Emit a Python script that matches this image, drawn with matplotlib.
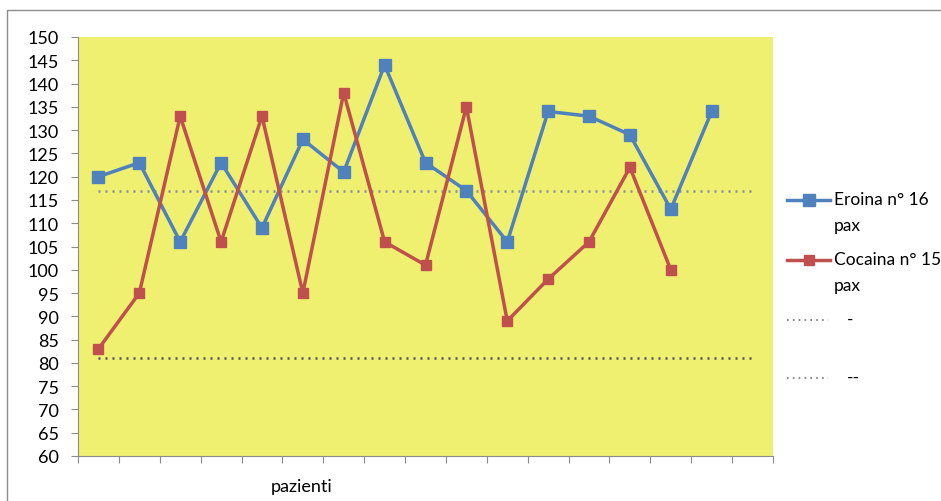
import matplotlib.pyplot as plt
from matplotlib.lines import Line2D
from matplotlib.patches import Rectangle

plt.rcParams['font.family'] = ['Lato', 'DejaVu Sans']

# data
eroina = [120, 123, 106, 123, 109, 128, 121, 144, 123, 117, 106, 134, 133, 129, 113, 134]
cocaina = [83, 95, 133, 106, 133, 95, 138, 106, 101, 135, 89, 98, 106, 122, 100]
n_cat = 17
upper_ref = [117] * n_cat
lower_ref = [81] * n_cat
labels = ['Eroina n° 16\npax', 'Cocaina n° 15\npax', '-', '--']
yticks = list(range(60, 151, 5))

W, H = 941, 502
fig = plt.figure(figsize=(W / 100, H / 100), dpi=100)
ax = fig.add_axes([78 / W, 1 - 457 / H, (773 - 78) / W, (457 - 38) / H])
ax.set_facecolor('#F0F070')

# outer chart frame
fig.add_artist(Rectangle((7 / W, -0.02), 1.0, 1 - 11 / H + 0.02, transform=fig.transFigure,
                         fill=False, edgecolor='#8C8C8C', linewidth=1.0))

dot = (0, (0.8, 2.0))
styles = [
    dict(color='#4F81BD', linewidth=2.5, marker='s', markersize=8, markeredgecolor='#4F81BD'),
    dict(color='#C0504D', linewidth=2.5, marker='s', markersize=6.5, markeredgecolor='#C0504D'),
    dict(color='#8A8A98', linewidth=1.8, linestyle=dot),
    dict(color='#50505C', linewidth=1.8, linestyle=dot),
]

ax.plot(range(n_cat), upper_ref, **styles[2])
ax.plot(range(n_cat), lower_ref, **styles[3])
ax.plot(range(len(eroina)), eroina, **styles[0])
ax.plot(range(len(cocaina)), cocaina, **styles[1])

ax.set_xlim(-0.5, n_cat - 0.5)
ax.set_ylim(60, 150)
ax.set_yticks(yticks)
ax.set_xticks([i - 0.5 for i in range(n_cat + 1)])
ax.set_xticklabels([])
ax.tick_params(axis='both', direction='out', length=5, color='#8C8C8C', labelsize=13, pad=4)
ax.tick_params(axis='y', pad=9)
for s in ['top', 'right']:
    ax.spines[s].set_visible(False)
for s in ['left', 'bottom']:
    ax.spines[s].set_color('#8C8C8C')

fig.text(302 / W, 1 - 487 / H, 'pazienti', ha='center', va='center', fontsize=13)

# legend drawn by hand so the handle sits on the first text line
leg_y = [201, 261, 321, 379]
for i, (lab, st) in enumerate(zip(labels, styles)):
    y = 1 - leg_y[i] / H
    if 'marker' in st:
        h = Line2D([787 / W, 808.5 / W, 830 / W], [y, y, y], transform=fig.transFigure,
                   markevery=[1], **st)
    else:
        st = dict(st, color='#8A8A98', linewidth=1.5)
        h = Line2D([787 / W, 828 / W], [y, y], transform=fig.transFigure, **st)
    fig.add_artist(h)
    tx = 834 if i < 2 else 847
    fig.text(tx / W, y + 9 / H, lab, ha='left', va='top', fontsize=12.5, linespacing=1.75)

fig.savefig('out.png', dpi=100)
